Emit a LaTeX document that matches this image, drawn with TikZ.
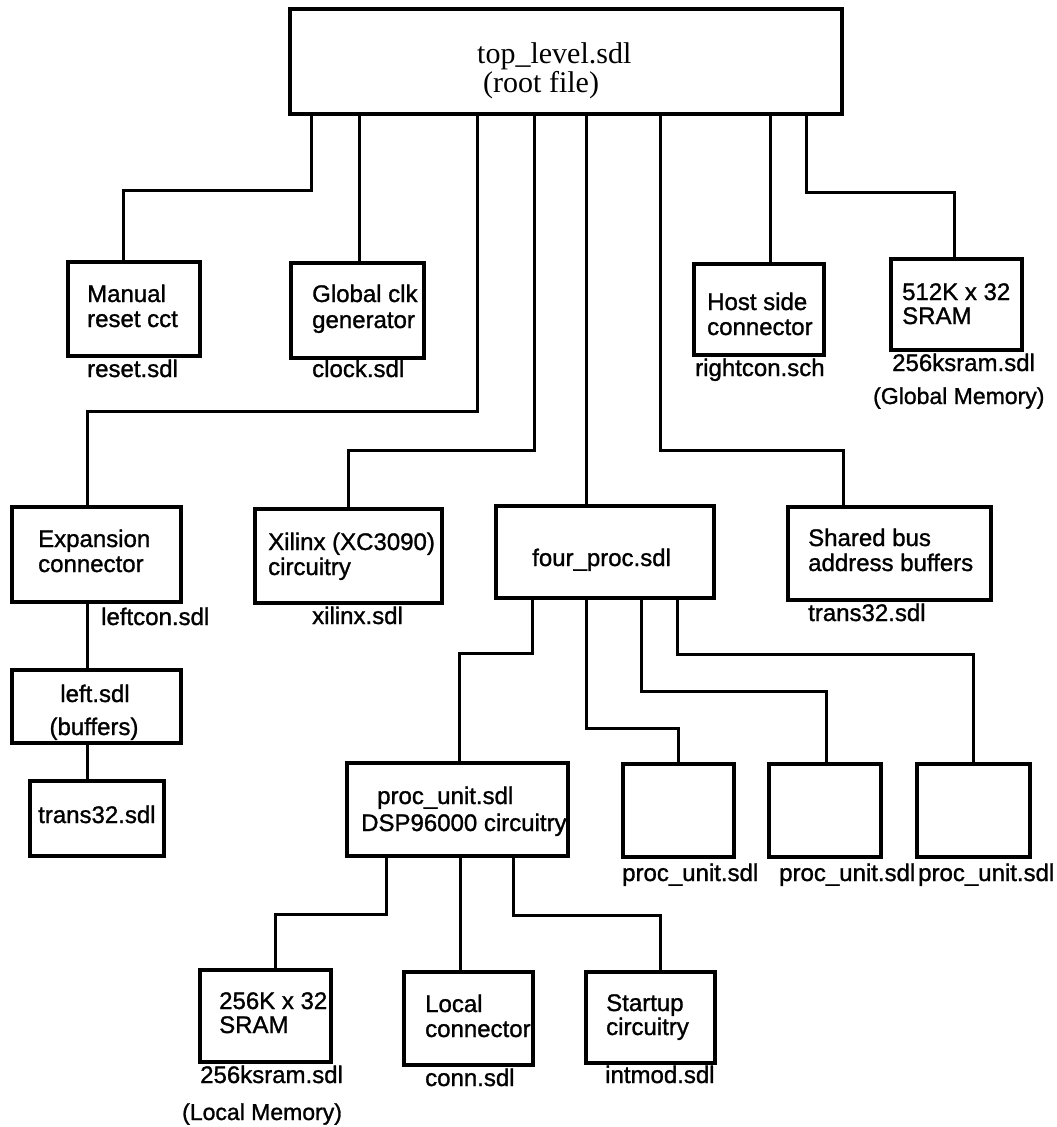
\documentclass[tikz,border=0pt]{standalone}
\usepackage{fontspec}
\setmainfont{Liberation Serif}
\setsansfont[FakeBold=1.2]{Liberation Sans}
% box given by its left, top, right and bottom edges
\newcommand\blk[5]{\node[box, minimum width={#4-#2}, minimum height={#5-#3}] (#1) at ({(#2+#4)/2},{(#3+#5)/2}) {};}
\begin{document}
\begin{tikzpicture}[x=1pt,y=-1pt,
  box/.style={draw, line width=3.4pt, rectangle, inner sep=0pt, outer sep=0pt},
  wire/.style={line width=3pt},
  lbl/.style={font=\sffamily\fontsize{24}{25}\selectfont, inner sep=0pt, anchor=base west},
  memo/.style={lbl, font=\sffamily\fontsize{23}{25}\selectfont},
  ttl/.style={font=\rmfamily\fontsize{30}{30}\selectfont, inner sep=0pt, anchor=base west}]
\useasboundingbox (0,0) rectangle (1057,1127);

% boxes
\blk{root}{290}{9}{842}{114}
\blk{manual}{68}{262}{200}{356}
\blk{clock}{291}{263}{424}{358}
\blk{host}{694}{264}{824}{355}
\blk{gsram}{891}{259}{1022}{350}
\blk{expan}{12}{507}{181}{602}
\blk{xilinx}{255}{509}{442}{603}
\blk{four}{496}{506}{714}{598}
\blk{shared}{788}{507}{991}{600}
\blk{leftb}{12}{670}{181}{743}
\blk{transb}{30}{781}{164}{856}
\blk{pu}{347}{763}{568}{856}
\blk{pub}{623}{764}{734}{857}
\blk{puc}{769}{764}{881}{857}
\blk{pud}{917}{764}{1030}{857}
\blk{lsram}{200}{970}{331}{1062}
\blk{local}{404}{972}{533}{1065}
\blk{startup}{586}{972}{715}{1063}

% connectors
\draw[wire] (root.south -| 311,0) |- (123,190) -- (123,0 |- manual.north);
\draw[wire] (root.south -| 359,0) -- (359,0 |- clock.north);
\draw[wire] (root.south -| 477,0) |- (87,411) -- (87,0 |- expan.north);
\draw[wire] (root.south -| 534,0) |- (348,450) -- (348,0 |- xilinx.north);
\draw[wire] (root.south -| 586,0) -- (586,0 |- four.north);
\draw[wire] (root.south -| 660,0) |- (843,450) -- (843,0 |- shared.north);
\draw[wire] (root.south -| 770,0) -- (770,0 |- host.north);
\draw[wire] (root.south -| 806,0) |- (954,192) -- (954,0 |- gsram.north);
\draw[wire] (expan.south -| 87,0) -- (87,0 |- leftb.north);
\draw[wire] (leftb.south -| 87,0) -- (87,0 |- transb.north);
\draw[wire] (four.south -| 532,0) |- (459,653) -- (459,0 |- pu.north);
\draw[wire] (four.south -| 586,0) |- (678,728) -- (678,0 |- pub.north);
\draw[wire] (four.south -| 641,0) |- (826,691) -- (826,0 |- puc.north);
\draw[wire] (four.south -| 677,0) |- (973,654) -- (973,0 |- pud.north);
\draw[wire] (pu.south -| 386,0) |- (275,914) -- (275,0 |- lsram.north);
\draw[wire] (pu.south -| 460,0) -- (460,0 |- local.north);
\draw[wire] (pu.south -| 513,0) |- (660,915) -- (660,0 |- startup.north);

% root text
\node[ttl] (t1) at (477,63) {top\_level.sdl};
\node[ttl] (t2) at (483,92) {(root file)};

% box texts and file names
\node[lbl] (m1) at (87,302) {Manual};
\node[lbl] (m2) at (87,327) {reset cct};
\node[lbl] (m3) at (87,377) {reset.sdl};
\node[lbl] (c1) at (312,302) {Global clk};
\node[lbl] (c2) at (312,328) {generator};
\node[lbl] (c3) at (312,377) {clock.sdl};
\node[lbl] (h1) at (707,310) {Host side};
\node[lbl] (h2) at (707,335) {connector};
\node[lbl] (h3) at (695,376) {rightcon.sch};
\node[lbl] (g1) at (902,300) {512K x 32};
\node[lbl] (g2) at (902,324) {SRAM};
\node[lbl] (g3) at (892,371) {256ksram.sdl};
\node[memo] (g4) at (873,404) {(Global Memory)};
\node[lbl] (e1) at (38,547) {Expansion};
\node[lbl] (e2) at (38,572) {connector};
\node[lbl] (e3) at (101,625) {leftcon.sdl};
\node[lbl] (x1) at (268,550) {Xilinx (XC3090)};
\node[lbl] (x2) at (268,575) {circuitry};
\node[lbl] (x3) at (312,624) {xilinx.sdl};
\node[lbl] (f1) at (532,566) {four\_proc.sdl};
\node[lbl] (s1) at (808,546) {Shared bus};
\node[lbl] (s2) at (808,571) {address buffers};
\node[lbl] (s3) at (808,621) {trans32.sdl};
\node[lbl, anchor=base] (l1) at (95,702) {left.sdl};
\node[lbl, anchor=base] (l2) at (94,735) {(buffers)};
\node[lbl] (b1) at (38,823) {trans32.sdl};
\node[lbl] (p1) at (377,804) {proc\_unit.sdl};
\node[lbl] (p2) at (361,831) {DSP96000 circuitry};
\node[lbl] (p3) at (622,881) {proc\_unit.sdl};
\node[lbl] (p4) at (779,881) {proc\_unit.sdl};
\node[lbl] (p5) at (918,881) {proc\_unit.sdl};
\node[lbl] (r1) at (219,1009) {256K x 32};
\node[lbl] (r2) at (219,1033) {SRAM};
\node[lbl] (r3) at (200,1083) {256ksram.sdl};
\node[memo] (r4) at (182,1120) {(Local Memory)};
\node[lbl] (o1) at (425,1012) {Local};
\node[lbl] (o2) at (425,1037) {connector};
\node[lbl] (o3) at (425,1086) {conn.sdl};
\node[lbl] (u1) at (606,1011) {Startup};
\node[lbl] (u2) at (606,1035) {circuitry};
\node[lbl] (u3) at (605,1083) {intmod.sdl};
\end{tikzpicture}
\end{document}
